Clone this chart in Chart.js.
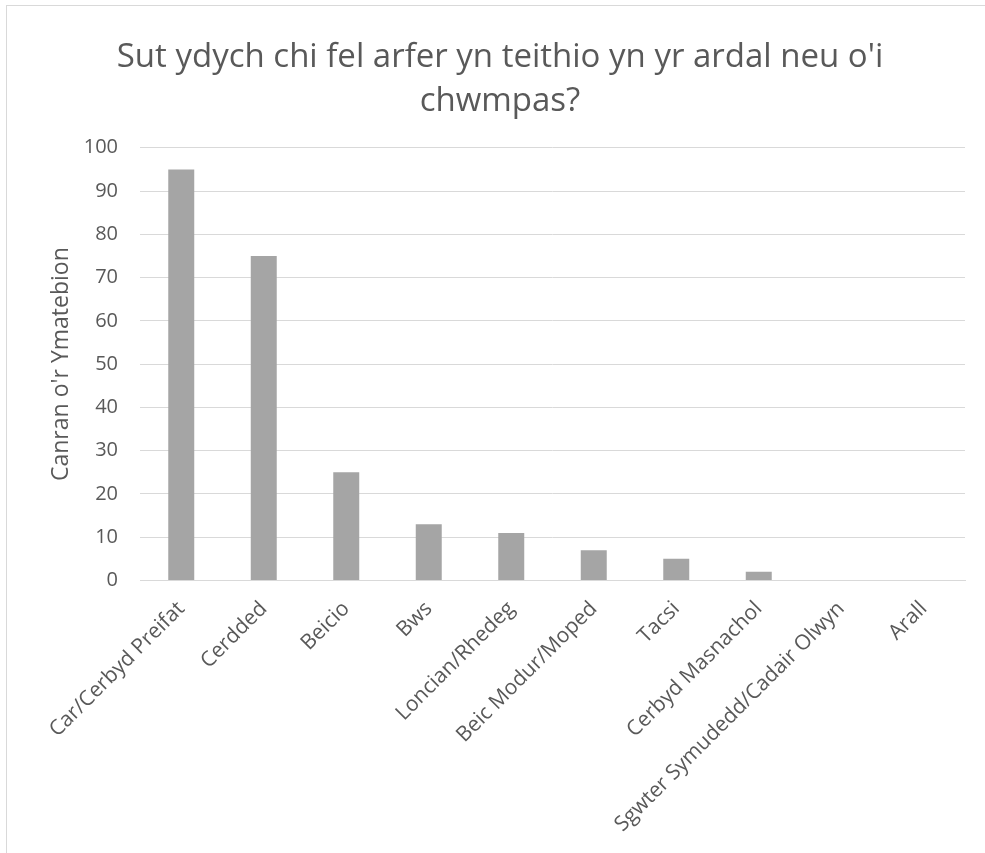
<!DOCTYPE html>
<html>
<head>
<meta charset="utf-8">
<script src="https://cdn.jsdelivr.net/npm/chart.js@4"></script>
<style>
  html, body { margin: 0; padding: 0; background: #fff; }
  #frame { position: absolute; left: 6px; top: 5px; width: 985px; height: 860px;
           border-left: 1px solid #d9d9d9; border-top: 1px solid #d9d9d9; }
  #wrap { position: absolute; left: 0; top: 0; width: 985px; height: 853px; }
</style>
</head>
<body>
<div id="frame"></div>
<div id="wrap"><canvas id="chart" width="985" height="853"></canvas></div>
<script>
// categories and values
var categories = ["Car/Cerbyd Preifat", "Cerdded", "Beicio", "Bws", "Loncian/Rhedeg",
    "Beic Modur/Moped", "Tacsi", "Cerbyd Masnachol", "Sgwter Symudedd/Cadair Olwyn", "Arall"]
var percentages = [95, 75, 25, 13, 11, 7, 5, 2, 0, 0]
var titleLines = ["Sut ydych chi fel arfer yn teithio yn yr ardal neu o'i", "chwmpas?"]
var yTitle = "Canran o'r Ymatebion"

var canva = document.getElementById('chart')
new Chart(canva.getContext('2d'), {
    type: 'bar',
    data: {
        labels: categories,
        datasets: [{
            data: percentages,
            backgroundColor: "#a5a5a5",
            categoryPercentage: 1,
            barPercentage: 0.315
        }]
    },
    options: {
        responsive: false,
        animation: false,
        layout: { padding: { left: 35, right: 20, top: 36, bottom: 0 } },
        plugins: {
            legend: { display: false },
            tooltip: { enabled: false },
            title: {
                display: true,
                text: titleLines,
                color: "#595959",
                font: { family: "Open Sans", size: 33, weight: 'normal', lineHeight: 1.33 },
                padding: { top: 0, bottom: 24 }
            }
        },
        scales: {
            x: {
                grid: { display: false, drawTicks: false },
                border: { color: "#d9d9d9" },
                ticks: {
                    color: "#595959",
                    font: { family: "Open Sans", size: 21 },
                    minRotation: 45,
                    maxRotation: 45,
                    autoSkip: false,
                    padding: 16
                }
            },
            y: {
                min: 0,
                max: 100,
                grid: { color: "#d9d9d9", drawTicks: false },
                border: { display: false },
                ticks: {
                    stepSize: 10,
                    color: "#595959",
                    font: { family: "Open Sans", size: 20 },
                    padding: 22
                },
                title: {
                    display: true,
                    text: yTitle,
                    color: "#595959",
                    font: { family: "Open Sans", size: 23 },
                    padding: { top: 13, bottom: 0 }
                },
                afterFit: function (scale) { scale.width = 105 }
            }
        }
    }
})
</script>
</body>
</html>
